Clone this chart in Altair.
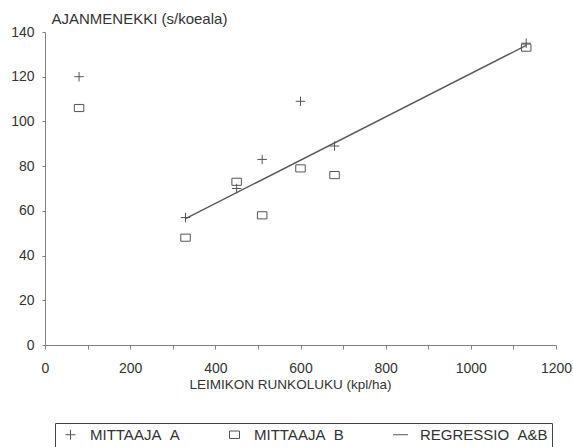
import altair as alt
import pandas as pd

# Data
a_x = [80, 330, 450, 510, 600, 680, 1130]
a_y = [120, 57, 70, 83, 109, 89, 135]
b_x = [80, 330, 450, 510, 600, 680, 1130]
b_y = [106, 48, 73, 58, 79, 76, 133]
reg_x = [330, 1130]
reg_y = [56.5, 134]

LAB_A = "MITTAAJA\u00a0\u00a0A"
LAB_B = "MITTAAJA\u00a0\u00a0B"
LAB_R = "REGRESSIO\u00a0\u00a0A&B"

pts = pd.DataFrame(
    {"x": a_x + b_x, "y": a_y + b_y, "s": [LAB_A] * len(a_x) + [LAB_B] * len(b_x)}
)
reg = pd.DataFrame({"x": reg_x, "y": reg_y})

FONT = "Liberation Sans"
GRAY = "#555555"
TXT = "#333333"

xscale = alt.Scale(domain=[0, 1200], nice=False, zero=False)
yscale = alt.Scale(domain=[0, 140], nice=False)

xaxis = alt.Axis(
    values=list(range(0, 1201, 100)),
    labelExpr="datum.value % 200 == 0 ? datum.label : ''",
    format="d",
    grid=False,
    tickSize=4,
    labelPadding=12,
    labelFlush=False,
    labelFontSize=14,
    title="LEIMIKON RUNKOLUKU (kpl/ha)",
    titleFontSize=13.5,
    titlePadding=2,
    titleX=245,
    titleAnchor="middle",
)
yaxis = alt.Axis(
    values=list(range(0, 141, 20)),
    grid=False,
    tickSize=3,
    labelPadding=8,
    labelFontSize=14,
    title="AJANMENEKKI (s/koeala)",
    titleFontSize=15,
    titleAngle=0,
    titleAlign="left",
    titleBaseline="middle",
    titleX=6,
    titleY=-14,
)

PLUS = "M-1,0H1M0,-1V1"
RECT = "M-1,-0.75H1V0.75H-1Z"
STROKE = "M-1.5,0H1.5"

points = alt.Chart(pts).mark_point(filled=False, strokeWidth=1, size=90, color=GRAY, opacity=1).encode(
    x=alt.X("x:Q", scale=xscale, axis=xaxis),
    y=alt.Y("y:Q", scale=yscale, axis=yaxis),
    shape=alt.Shape(
        "s:N",
        scale=alt.Scale(domain=[LAB_A, LAB_B, LAB_R], range=[PLUS, RECT, STROKE]),
        legend=alt.Legend(
            title="\u00a0",
            titleOrient="left",
            titlePadding=4,
            titleFontSize=15,
            titleFont=FONT,
            orient="none",
            legendX=10,
            legendY=391,
            direction="horizontal",
            strokeColor="#444444",
            padding=4,
            columnPadding=47,
            symbolSize=100,
            symbolStrokeColor=GRAY,
            symbolStrokeWidth=1,
            labelFont=FONT,
            labelFontSize=15,
            labelColor=TXT,
            labelOffset=12,
            labelLimit=0,
        ),
    ),
)

line = alt.Chart(reg).mark_line(color="#5a5a5a", strokeWidth=1.4).encode(
    x=alt.X("x:Q", scale=xscale),
    y=alt.Y("y:Q", scale=yscale),
)

chart = (
    alt.layer(line, points)
    .properties(
        width=511,
        height=313,
        autosize=alt.AutoSizeParams(type="none"),
        padding={"left": 45, "top": 32, "right": 17, "bottom": 102},
    )
    .configure_view(stroke=None)
    .configure_axis(
        domainColor="#808080",
        tickColor="#808080",
        labelFont=FONT,
        titleFont=FONT,
        titleFontWeight="normal",
        labelColor=TXT,
        titleColor=TXT,
    )
)

chart.save("out.html", embed_options={"renderer": "svg", "actions": False})
